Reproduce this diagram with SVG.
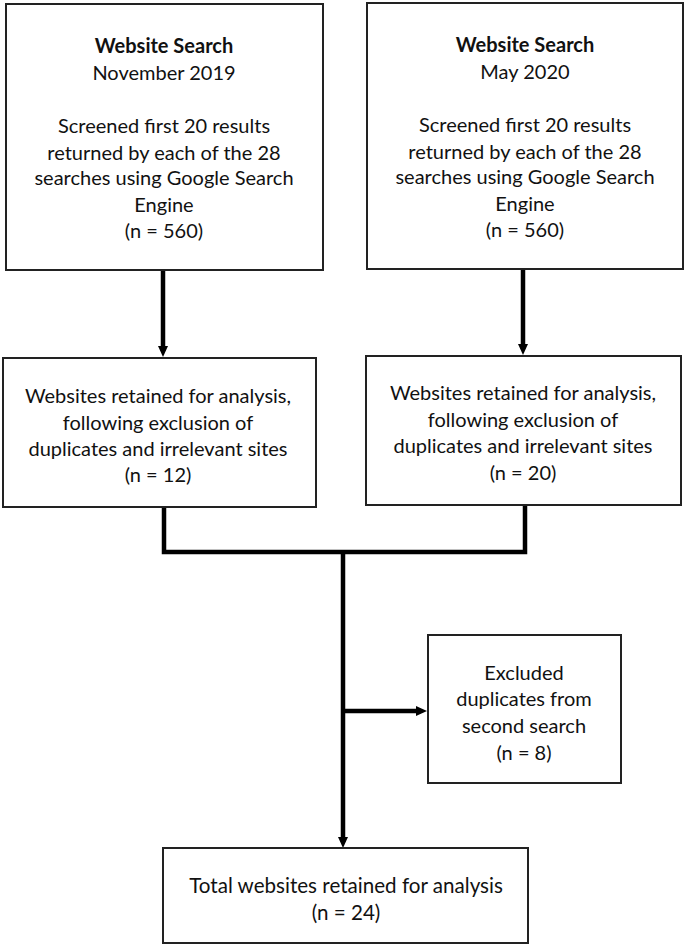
<svg xmlns="http://www.w3.org/2000/svg" width="685" height="946" viewBox="0 0 685 946">
<style>
.box{fill:#fff;stroke:#222;stroke-width:2}
.t{font-family:Lato,"Liberation Sans",sans-serif;font-size:20px;fill:#111;text-anchor:middle;dominant-baseline:central}
.b{font-weight:bold}
.c{fill:none;stroke:#000;stroke-width:4.5}
</style>
<defs>
<marker id="ah" markerUnits="userSpaceOnUse" markerWidth="12" markerHeight="12" refX="5" refY="5" orient="auto">
<path d="M0,0 L11,5 L0,10 z" fill="#000"/>
</marker>
</defs>
<rect width="685" height="946" fill="#fff"/>
<g id="connectors">
<line class="c" x1="163" y1="270" x2="163" y2="351" marker-end="url(#ah)"/>
<line class="c" x1="523" y1="269" x2="523" y2="349" marker-end="url(#ah)"/>
<polyline class="c" points="164,507 164,552 525,552 525,505"/>
<line class="c" x1="343" y1="552" x2="343" y2="842" marker-end="url(#ah)"/>
<line class="c" x1="343" y1="711" x2="421" y2="711" marker-end="url(#ah)"/>
</g>
<g id="search1">
<rect class="box" x="6" y="4" width="317" height="266"/>
<text class="t b" x="164" y="45">Website Search</text>
<text class="t" x="164" y="72">November 2019</text>
<text class="t" x="164" y="125">Screened first 20 results</text>
<text class="t" x="164" y="152">returned by each of the 28</text>
<text class="t" x="164" y="177">searches using Google Search</text>
<text class="t" x="164" y="204">Engine</text>
<text class="t" x="164" y="230">(n = 560)</text>
</g>
<g id="search2">
<rect class="box" x="367" y="3" width="316" height="266"/>
<text class="t b" x="525" y="44">Website Search</text>
<text class="t" x="525" y="71">May 2020</text>
<text class="t" x="525" y="124">Screened first 20 results</text>
<text class="t" x="525" y="151">returned by each of the 28</text>
<text class="t" x="525" y="176">searches using Google Search</text>
<text class="t" x="525" y="203">Engine</text>
<text class="t" x="525" y="229">(n = 560)</text>
</g>
<g id="retained1">
<rect class="box" x="3" y="358" width="313" height="149"/>
<text class="t" x="158" y="395">Websites retained for analysis,</text>
<text class="t" x="158" y="422">following exclusion of</text>
<text class="t" x="158" y="448">duplicates and irrelevant sites</text>
<text class="t" x="158" y="474">(n = 12)</text>
</g>
<g id="retained2">
<rect class="box" x="366" y="356" width="315" height="149"/>
<text class="t" x="523" y="392">Websites retained for analysis,</text>
<text class="t" x="523" y="419">following exclusion of</text>
<text class="t" x="523" y="445">duplicates and irrelevant sites</text>
<text class="t" x="523" y="472">(n = 20)</text>
</g>
<g id="excluded">
<rect class="box" x="428" y="635" width="193" height="148"/>
<text class="t" x="524" y="672">Excluded</text>
<text class="t" x="524" y="698">duplicates from</text>
<text class="t" x="524" y="725">second search</text>
<text class="t" x="524" y="752">(n = 8)</text>
</g>
<g id="total">
<rect class="box" x="163" y="848" width="365" height="95"/>
<text class="t" x="346" y="885" style="font-size:20.6px">Total websites retained for analysis</text>
<text class="t" x="346" y="912" style="font-size:20.6px">(n = 24)</text>
</g>
</svg>
